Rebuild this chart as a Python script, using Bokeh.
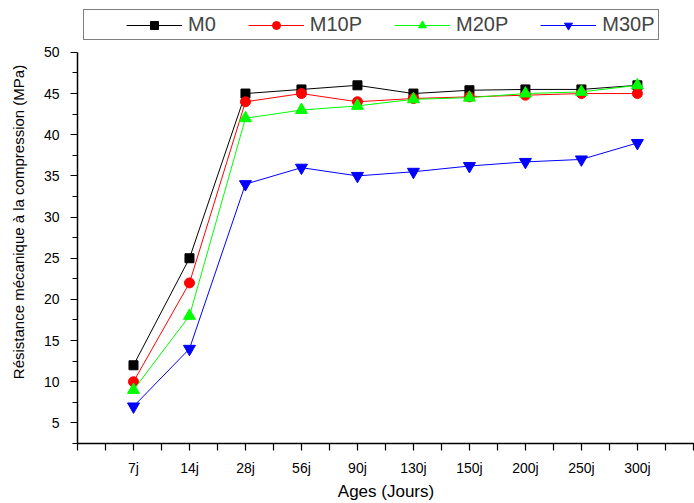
from bokeh.plotting import figure
from bokeh.models import Legend, LegendItem, FixedTicker, Range1d
from bokeh.embed import file_html
from bokeh.resources import INLINE

ages = ["7j", "14j", "28j", "56j", "90j", "130j", "150j", "200j", "250j", "300j"]
m0 = [12, 25, 45, 45.5, 46, 45, 45.4, 45.5, 45.5, 46]
m10p = [10, 22, 44, 45, 44, 44.4, 44.6, 44.8, 45, 45]
m20p = [9, 18, 42, 43, 43.5, 44.3, 44.5, 45, 45.2, 46]
m30p = [7, 14, 34, 36, 35, 35.5, 36.2, 36.7, 37, 39]
y_ticks = [5, 10, 15, 20, 25, 30, 35, 40, 45, 50]

x = list(range(1, len(ages) + 1))
FONT = "Liberation Sans"

# frame spans full height above the axis so the legend (inside the frame) is not clipped;
# the y axis itself is bounded to 2.5..50
Y_LO, Y_HI = 2.5, 50
y_top = Y_HI + 52 * (Y_HI - Y_LO) / 392

p = figure(width=694, height=503, output_backend="svg", toolbar_location=None,
           x_range=Range1d(0, 11.02), y_range=Range1d(Y_LO, y_top),
           min_border_left=77, min_border_right=0, min_border_top=0, min_border_bottom=59)
p.outline_line_color = None
p.xgrid.visible = False
p.ygrid.visible = False

series = [
    ("M0", m0, "black", "square", 9),
    ("M10P", m10p, "#ff0000", "circle", 10),
    ("M20P", m20p, "#00ff00", "triangle", 12),
    ("M30P", m30p, "#0000ff", "inverted_triangle", 12),
]
items = []
for name, vals, col, mk, sz in series:
    l = p.line(x, vals, line_color=col, line_width=1)
    s = p.scatter(x, vals, marker=mk, size=sz, fill_color=col, line_color=col)
    items.append(LegendItem(label=name, renderers=[l, s]))

p.xaxis.ticker = FixedTicker(ticks=list(range(0, 12)), minor_ticks=[i + 0.5 for i in range(0, 11)])
p.xaxis.major_label_overrides = {0: "", 11: ""} | {i: a for i, a in zip(x, ages)}
p.yaxis.ticker = FixedTicker(ticks=y_ticks, minor_ticks=[t - 2.5 for t in y_ticks])
p.yaxis.bounds = (Y_LO, Y_HI)

for ax in (p.xaxis[0], p.yaxis[0]):
    ax.axis_line_color = "black"
    ax.axis_line_width = 1.5
    ax.major_tick_line_color = "black"
    ax.minor_tick_line_color = "black"
    ax.major_tick_line_width = 1.2
    ax.minor_tick_line_width = 1.2
    ax.major_tick_in = 0
    ax.minor_tick_in = 0
    ax.major_tick_out = 7
    ax.minor_tick_out = 5
    ax.major_label_text_font = FONT
    ax.major_label_text_font_size = "14px"
    ax.major_label_text_color = "black"
    ax.axis_label_text_font = FONT
    ax.axis_label_text_font_style = "normal"
    ax.axis_label_text_color = "black"

p.xaxis.minor_tick_out = 7
p.xaxis.major_label_standoff = 9
p.yaxis.major_label_standoff = 11
p.xaxis.axis_label = "Ages (Jours)"
p.xaxis.axis_label_text_font_size = "17px"
p.xaxis.axis_label_standoff = 3
p.yaxis.axis_label = "Résistance mécanique à la compression (MPa)"
p.yaxis.axis_label_text_font_size = "15px"
p.yaxis.axis_label_standoff = 14

legend = Legend(items=items, orientation="horizontal", location=(6, 403),
                title=" ", title_location="left", title_standoff=16,
                title_text_font=FONT, title_text_font_size="20px",
                label_text_font=FONT, label_text_font_size="20px",
                glyph_width=56, glyph_height=20, label_standoff=6, spacing=32,
                padding=3, margin=0, border_line_color="black", border_line_width=1.5,
                background_fill_alpha=1.0)
p.add_layout(legend, "center")

open("out.html", "w").write(file_html(p, INLINE))
